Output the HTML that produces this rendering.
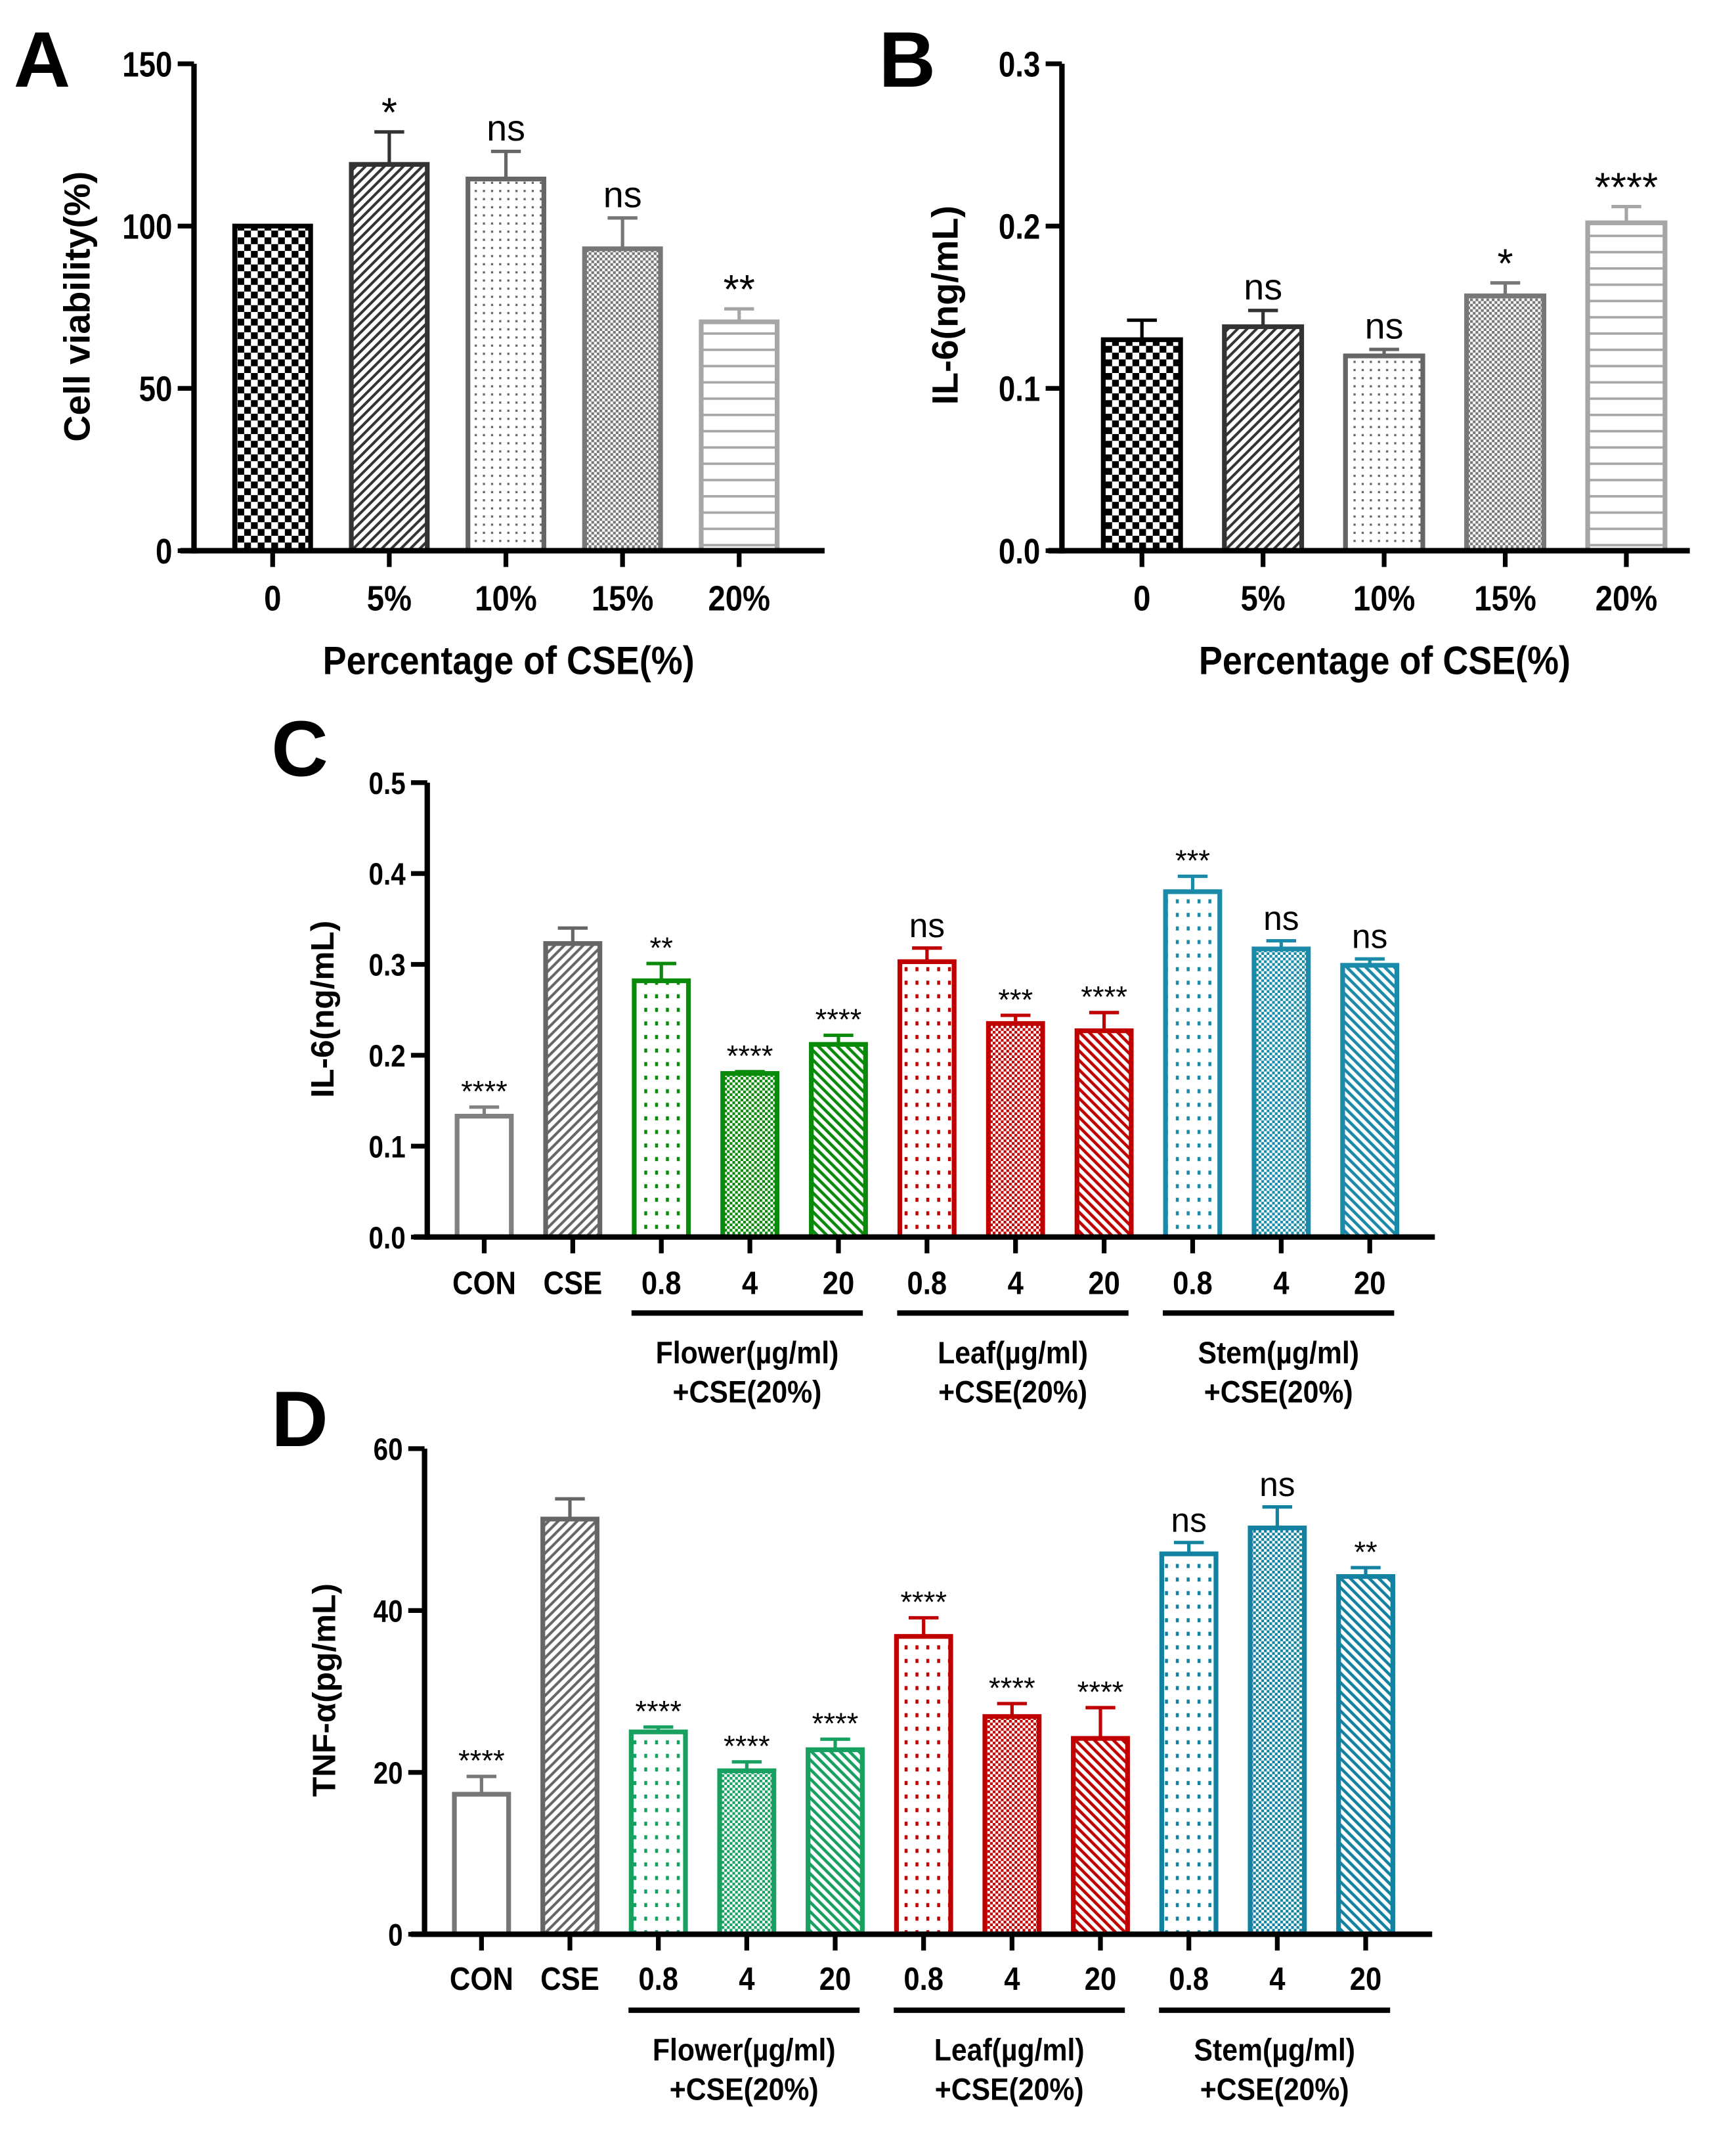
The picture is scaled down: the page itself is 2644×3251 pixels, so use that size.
<!DOCTYPE html>
<html><head><meta charset="utf-8">
<style>
html,body{margin:0;padding:0;background:#fff;}
svg{display:block;}
text{font-family:"Liberation Sans",Arial,sans-serif;}
</style></head>
<body>
<svg id="fig" xmlns="http://www.w3.org/2000/svg" width="2644" height="3251" viewBox="0 0 1280 1574">
<defs id="defs"></defs>
<g id="root"></g>
</svg>
<script>
// ---- data ----
const catsAB = ["0","5%","10%","15%","20%"];
const valsA = [100,119,114.5,93,70.5];
const errA = [0,10,8.5,9.5,4];
const sigA = ["","*","ns","ns","**"];
const ticksA = [0,50,100,150];
const valsB = [0.13,0.138,0.12,0.157,0.202];
const errB = [0.012,0.01,0.004,0.008,0.01];
const sigB = ["","ns","ns","*","****"];
const ticksB = [0,0.1,0.2,0.3];
const catsCD = ["CON","CSE","0.8","4","20","0.8","4","20","0.8","4","20"];
const valsC = [0.133,0.323,0.282,0.18,0.212,0.303,0.235,0.227,0.38,0.317,0.299];
const errC = [0.01,0.017,0.019,0.002,0.01,0.015,0.009,0.02,0.017,0.009,0.007];
const sigC = ["****","","**","****","****","ns","***","****","***","ns","ns"];
const ticksC = [0,0.1,0.2,0.3,0.4,0.5];
const valsD = [17.3,51.3,25,20.2,22.8,36.8,26.9,24.2,47,50.2,44.2];
const errD = [2.2,2.5,0.6,1.1,1.3,2.3,1.6,3.8,1.4,2.6,1.1];
const sigD = ["****","","****","****","****","****","****","****","ns","ns","**"];
const ticksD = [0,20,40,60];
const groupNames = ["Flower(µg/ml)","Leaf(µg/ml)","Stem(µg/ml)"];

const NS="http://www.w3.org/2000/svg";
const root=document.getElementById('root');
const defs=document.getElementById('defs');
function el(tag,attrs,parent,txt){const e=document.createElementNS(NS,tag);for(const k in attrs)e.setAttribute(k,attrs[k]);if(txt!==undefined)e.textContent=txt;(parent||root).appendChild(e);return e;}

// condensed text helper (scaleX)
function ctext(parent,x,y,str,size,anchor,sx,bold){
  const t=el('text',{x:0,y:0,transform:`translate(${x},${y}) scale(${sx},1)`,'text-anchor':anchor,'font-size':size,'font-weight':bold?'bold':'normal',fill:'#000'},parent,str);
  return t;
}

let pid=0;
function pat(type,color){
  const id='p'+(pid++);
  let s;
  if(type==='checker'){s=10;}else if(type==='fine'){s=4;}else if(type==='dots'){s=6;}else if(type==='dotsC'){s=8;}else if(type==='hlines'){s=12;}else{s=7;}
  const p=el('pattern',{id:id,patternUnits:'userSpaceOnUse',width:s,height:(type==='dotsC'?10:s)},defs);
  if(type==='checker'){el('rect',{x:0,y:0,width:5,height:5,fill:color},p);el('rect',{x:5,y:5,width:5,height:5,fill:color},p);}
  else if(type==='fine'){el('rect',{x:0,y:0,width:2,height:2,fill:color},p);el('rect',{x:2,y:2,width:2,height:2,fill:color},p);}
  else if(type==='dots'){el('rect',{x:2,y:2,width:1.6,height:1.6,fill:color},p);}
  else if(type==='dotsC'){el('rect',{x:3,y:3,width:2.2,height:3,fill:color},p);}
  else if(type==='hlines'){el('rect',{x:0,y:5,width:s,height:1.8,fill:color},p);}
  else if(type==='fwd'){el('path',{d:'M-1,8 L8,-1 M-1,1 L1,-1 M6,8 L8,6',stroke:color,'stroke-width':2},p);}
  else if(type==='back'){el('path',{d:'M-1,-1 L8,8 M6,-1 L8,1 M-1,6 L1,8',stroke:color,'stroke-width':2.2},p);}
  return 'url(#'+id+')';
}

function chart(o){
  const g=el('g',{});
  
  
  const y=v=>o.y0-(v-o.ticks[0])/(o.ticks[o.ticks.length-1]-o.ticks[0])*(o.y0-o.yTop);
  o.vals.forEach((v,i)=>{
    const cx=o.cx0+i*o.step, w=o.bw, top=y(v), col=o.colors[i];
    const fill=o.pats[i]?pat(o.pats[i],col):'#fff';
    const r=el('rect',{x:cx-w/2,y:top,width:w,height:o.y0-top,fill:fill,stroke:col,'stroke-width':3.5},g);
    
    
    const ey=y(v+o.err[i]);
    if(o.err[i]>0){
      const eb=el('path',{d:`M${cx},${top} V${ey} M${cx-11},${ey} H${cx+11}`,stroke:col,'stroke-width':2.5,fill:'none'},g);
      
      
    }
    if(o.sig[i]){
      const isNs=o.sig[i]==='ns';
      const t=el('text',{x:cx,y:ey-(isNs?8:4),'text-anchor':'middle','font-size':isNs?o.nsSize:o.starSize,fill:'#000'},g,o.sig[i]);
      
      
    }
    el('line',{x1:cx,y1:o.y0,x2:cx,y2:o.y0+12,stroke:'#000','stroke-width':3.5},g);
    const xl=ctext(g,cx,o.xlabY,o.cats[i],o.xlabSize,'middle',0.88,true);
    
    
  });
  el('line',{x1:o.ax,y1:o.yTop,x2:o.ax,y2:o.y0+2,stroke:'#000','stroke-width':4},g);
  el('line',{x1:o.ax-10,y1:o.y0,x2:o.xEnd,y2:o.y0,stroke:'#000','stroke-width':4},g);
  o.ticks.forEach(t=>{
    const ty=y(t);
    el('line',{x1:o.ax-12,y1:ty,x2:o.ax,y2:ty,stroke:'#000','stroke-width':3.5},g);
    const tl=ctext(g,o.ax-16,ty+o.ytSize*0.36,o.fmt(t),o.ytSize,'end',0.85,true);
    
    
  });
  const yt=el('text',{x:0,y:0,transform:`translate(${o.ytX},${o.ytY}) rotate(-90)`,'text-anchor':'middle','font-size':o.ytitleSize,'font-weight':'bold',fill:'#000'},g,o.ytitle);
  
  
  const pl=el('text',{x:o.lx,y:o.ly,'font-size':58,'font-weight':'bold',fill:'#000'},g,o.letter);
  
  
  if(o.xtitle){
    const xt=ctext(g,o.xtX,o.xtY,o.xtitle,29,'middle',0.9,true);
    
    
  }
  if(o.groups){
    o.groups.forEach((gr,k)=>{
      const a=o.cx0+(2+3*k)*o.step-22, b=o.cx0+(4+3*k)*o.step+18;
      const ln=el('line',{x1:a,y1:o.gY,x2:b,y2:o.gY,stroke:'#000','stroke-width':4},g);
      
      
      const mid=(a+b)/2;
      const t1=ctext(g,mid,o.gY+37,gr,23,'middle',0.9,true);
      
      
      const t2=ctext(g,mid,o.gY+66,'+CSE(20%)',23,'middle',0.9,true);
      
      
    });
  }
}

const grayA=['#000','#333','#666','#777','#a6a6a6'];
const patsAB=['checker','fwd','dots','fine','hlines'];
chart({name:'panel-a-chart',letter:'A',lx:10,ly:64,vals:valsA,err:errA,sig:sigA,cats:catsAB,ticks:ticksA,fmt:t=>String(t),
  ax:143,yTop:47,y0:406,xEnd:608,cx0:201,step:86,bw:56,colors:grayA,pats:patsAB,starSize:30,nsSize:27,xlabY:450,xlabSize:26,ytSize:26,
  ytitle:'Cell viability(%)',ytX:66,ytY:226,ytitleSize:27,xtitle:'Percentage of CSE(%)',xtX:375,xtY:497});
chart({name:'panel-b-chart',letter:'B',lx:648,ly:64,vals:valsB,err:errB,sig:sigB,cats:catsAB,ticks:ticksB,fmt:t=>t.toFixed(1),
  ax:783,yTop:47,y0:406,xEnd:1246,cx0:842,step:89.3,bw:57,colors:grayA,pats:patsAB,starSize:30,nsSize:27,xlabY:450,xlabSize:26,ytSize:26,
  ytitle:'IL-6(ng/mL)',ytX:706,ytY:225,ytitleSize:27,xtitle:'Percentage of CSE(%)',xtX:1021,xtY:497});
const colC=['#808080','#666','#0a8a0a','#0a8a0a','#0a8a0a','#c00000','#c00000','#c00000','#1a8aa8','#1a8aa8','#1a8aa8'];
const colD=['#777','#666','#17a060','#17a060','#17a060','#c00000','#c00000','#c00000','#1282a0','#1282a0','#1282a0'];
const patsCD=[null,'fwd','dotsC','fine','back','dotsC','fine','back','dotsC','fine','back'];
chart({name:'panel-c-chart',letter:'C',lx:200,ly:572,vals:valsC,err:errC,sig:sigC,cats:catsCD,ticks:ticksC,fmt:t=>t.toFixed(1),
  ax:315,yTop:577,y0:912,xEnd:1058,cx0:357,step:65.3,bw:40,colors:colC,pats:patsCD,starSize:22,nsSize:25,xlabY:954,xlabSize:24,ytSize:23,
  ytitle:'IL-6(ng/mL)',ytX:246,ytY:744,ytitleSize:24,groups:groupNames,gY:968});
chart({name:'panel-d-chart',letter:'D',lx:200,ly:1066,vals:valsD,err:errD,sig:sigD,cats:catsCD,ticks:ticksD,fmt:t=>String(t),
  ax:313,yTop:1068,y0:1426,xEnd:1056,cx0:355,step:65.2,bw:40,colors:colD,pats:patsCD,starSize:22,nsSize:25,xlabY:1467,xlabSize:24,ytSize:23,
  ytitle:'TNF-α(pg/mL)',ytX:247,ytY:1246,ytitleSize:24,groups:groupNames,gY:1482});
</script>
</body></html>
